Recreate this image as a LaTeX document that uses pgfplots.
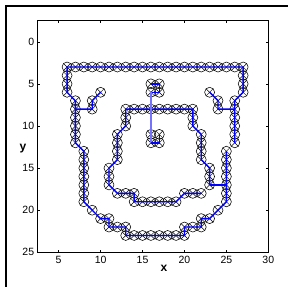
\documentclass[border=0pt]{standalone}
\usepackage{pgfplots}
\pgfplotsset{compat=1.18}
\usepackage{fontspec}
\setmainfont{Liberation Sans}
\pgfplotstableread{
x y
6 3
7 3
8 3
9 3
10 3
11 3
12 3
13 3
14 3
15 3
16 3
17 3
18 3
19 3
20 3
21 3
22 3
23 3
24 3
25 3
26 3
27 3
6 4
6 5
6 6
7 7
7 8
7 9
7 10
7 11
7 12
8 13
8 14
8 15
8 16
8 17
8 18
8 19
9 20
10 21
11 21
11 22
12 22
13 22
13 23
14 23
15 23
16 23
17 23
18 23
19 23
20 23
20 22
21 22
22 22
22 21
23 21
24 20
25 13
25 14
25 15
25 16
25 17
25 18
25 19
27 4
27 5
27 6
26 7
26 8
26 9
26 10
26 11
26 12
10 6
9 7
9 8
23 6
24 7
24 8
13 8
14 8
15 8
16 8
17 8
18 8
19 8
20 8
21 8
13 9
13 10
12 11
12 12
12 13
12 14
11 15
11 16
11 17
12 18
13 18
14 18
14 19
15 19
16 19
17 19
18 19
19 19
20 18
21 18
22 18
21 9
21 10
22 11
22 12
22 13
22 14
23 15
23 16
23 17
16 5
17 5
16 6
17 6
16 11
17 11
16 12
17 12
}\pts
\begin{document}
\begin{tikzpicture}
\path[use as bounding box] (0pt,0pt) rectangle (288pt,-286pt);
\draw[line width=2pt] (6pt,-300pt) -- (6pt,-6pt) -- (300pt,-6pt);
\pgfplotsset{common/.style={
  at={(37.7pt,-20.7pt)}, anchor=north west,
  scale only axis, width=230.6pt, height=231.6pt,
  xmin=2.5, xmax=30, ymin=-2.5, ymax=25, y dir=reverse, clip=false}}
\begin{axis}[common,
  xtick={5,10,...,30}, ytick={0,5,...,25},
  tick align=inside, major tick length=2.5pt,
  axis line style={line width=0.6pt},
  tick style={line width=0.5pt, black},
  ticklabel style={font=\fontsize{10.5}{12}\selectfont},
  /pgf/number format/assume math mode=true,
  xlabel={x}, ylabel={y},
  label style={font=\bfseries\fontsize{12}{14}\selectfont},
  xlabel style={at={(axis description cs:0.548,-0.068)}, anchor=center},
  ylabel style={at={(axis description cs:-0.064,0.45)}, anchor=center, rotate=-90},
]
\addplot[only marks, mark=o, mark size=5pt, mark options={line width=0.55pt, draw=black}] table[x=x,y=y] {\pts};
\addplot[only marks, mark=x, mark size=5pt, mark options={line width=0.5pt, draw=black}] table[x=x,y=y] {\pts};
\end{axis}
\begin{axis}[common, hide axis,
  blueline/.style={blue, line width=1.4pt, mark=none}]
\addplot[blueline] coordinates {
(25,13)(25,19)(24,20)(23,21)(22,21)(22,22)(20,22)(20,23)(13,23)(13,22)(11,22)(11,21)(10,21)(8,19)(8,13)(7,12)(7,7)(6,6)(6,3)(27,3)(27,6)(26,7)(26,12)
};
\addplot[blueline] coordinates {(7,8)(9,8)(9,7)(10,6)};
\addplot[blueline] coordinates {(23,6)(24,7)(24,8)(26,8)};
\addplot[blueline] coordinates {(23,17)(25,17)};
\addplot[blueline] coordinates {
(22,18)(20,18)(19,19)(14,19)(14,18)(12,18)(11,17)(11,15)(12,14)(12,11)(13,10)(13,8)(21,8)(21,10)(22,11)(22,14)(23,15)(23,17)
};
\addplot[blueline] coordinates {(16,5)(17,5)(17,6)(16,6)};
\addplot[blueline, blue!55, line width=1.7pt] coordinates {(16,6)(16,12)};
\addplot[blueline] coordinates {(16,12)(17,12)(17,11)};
\end{axis}
\end{tikzpicture}
\end{document}
